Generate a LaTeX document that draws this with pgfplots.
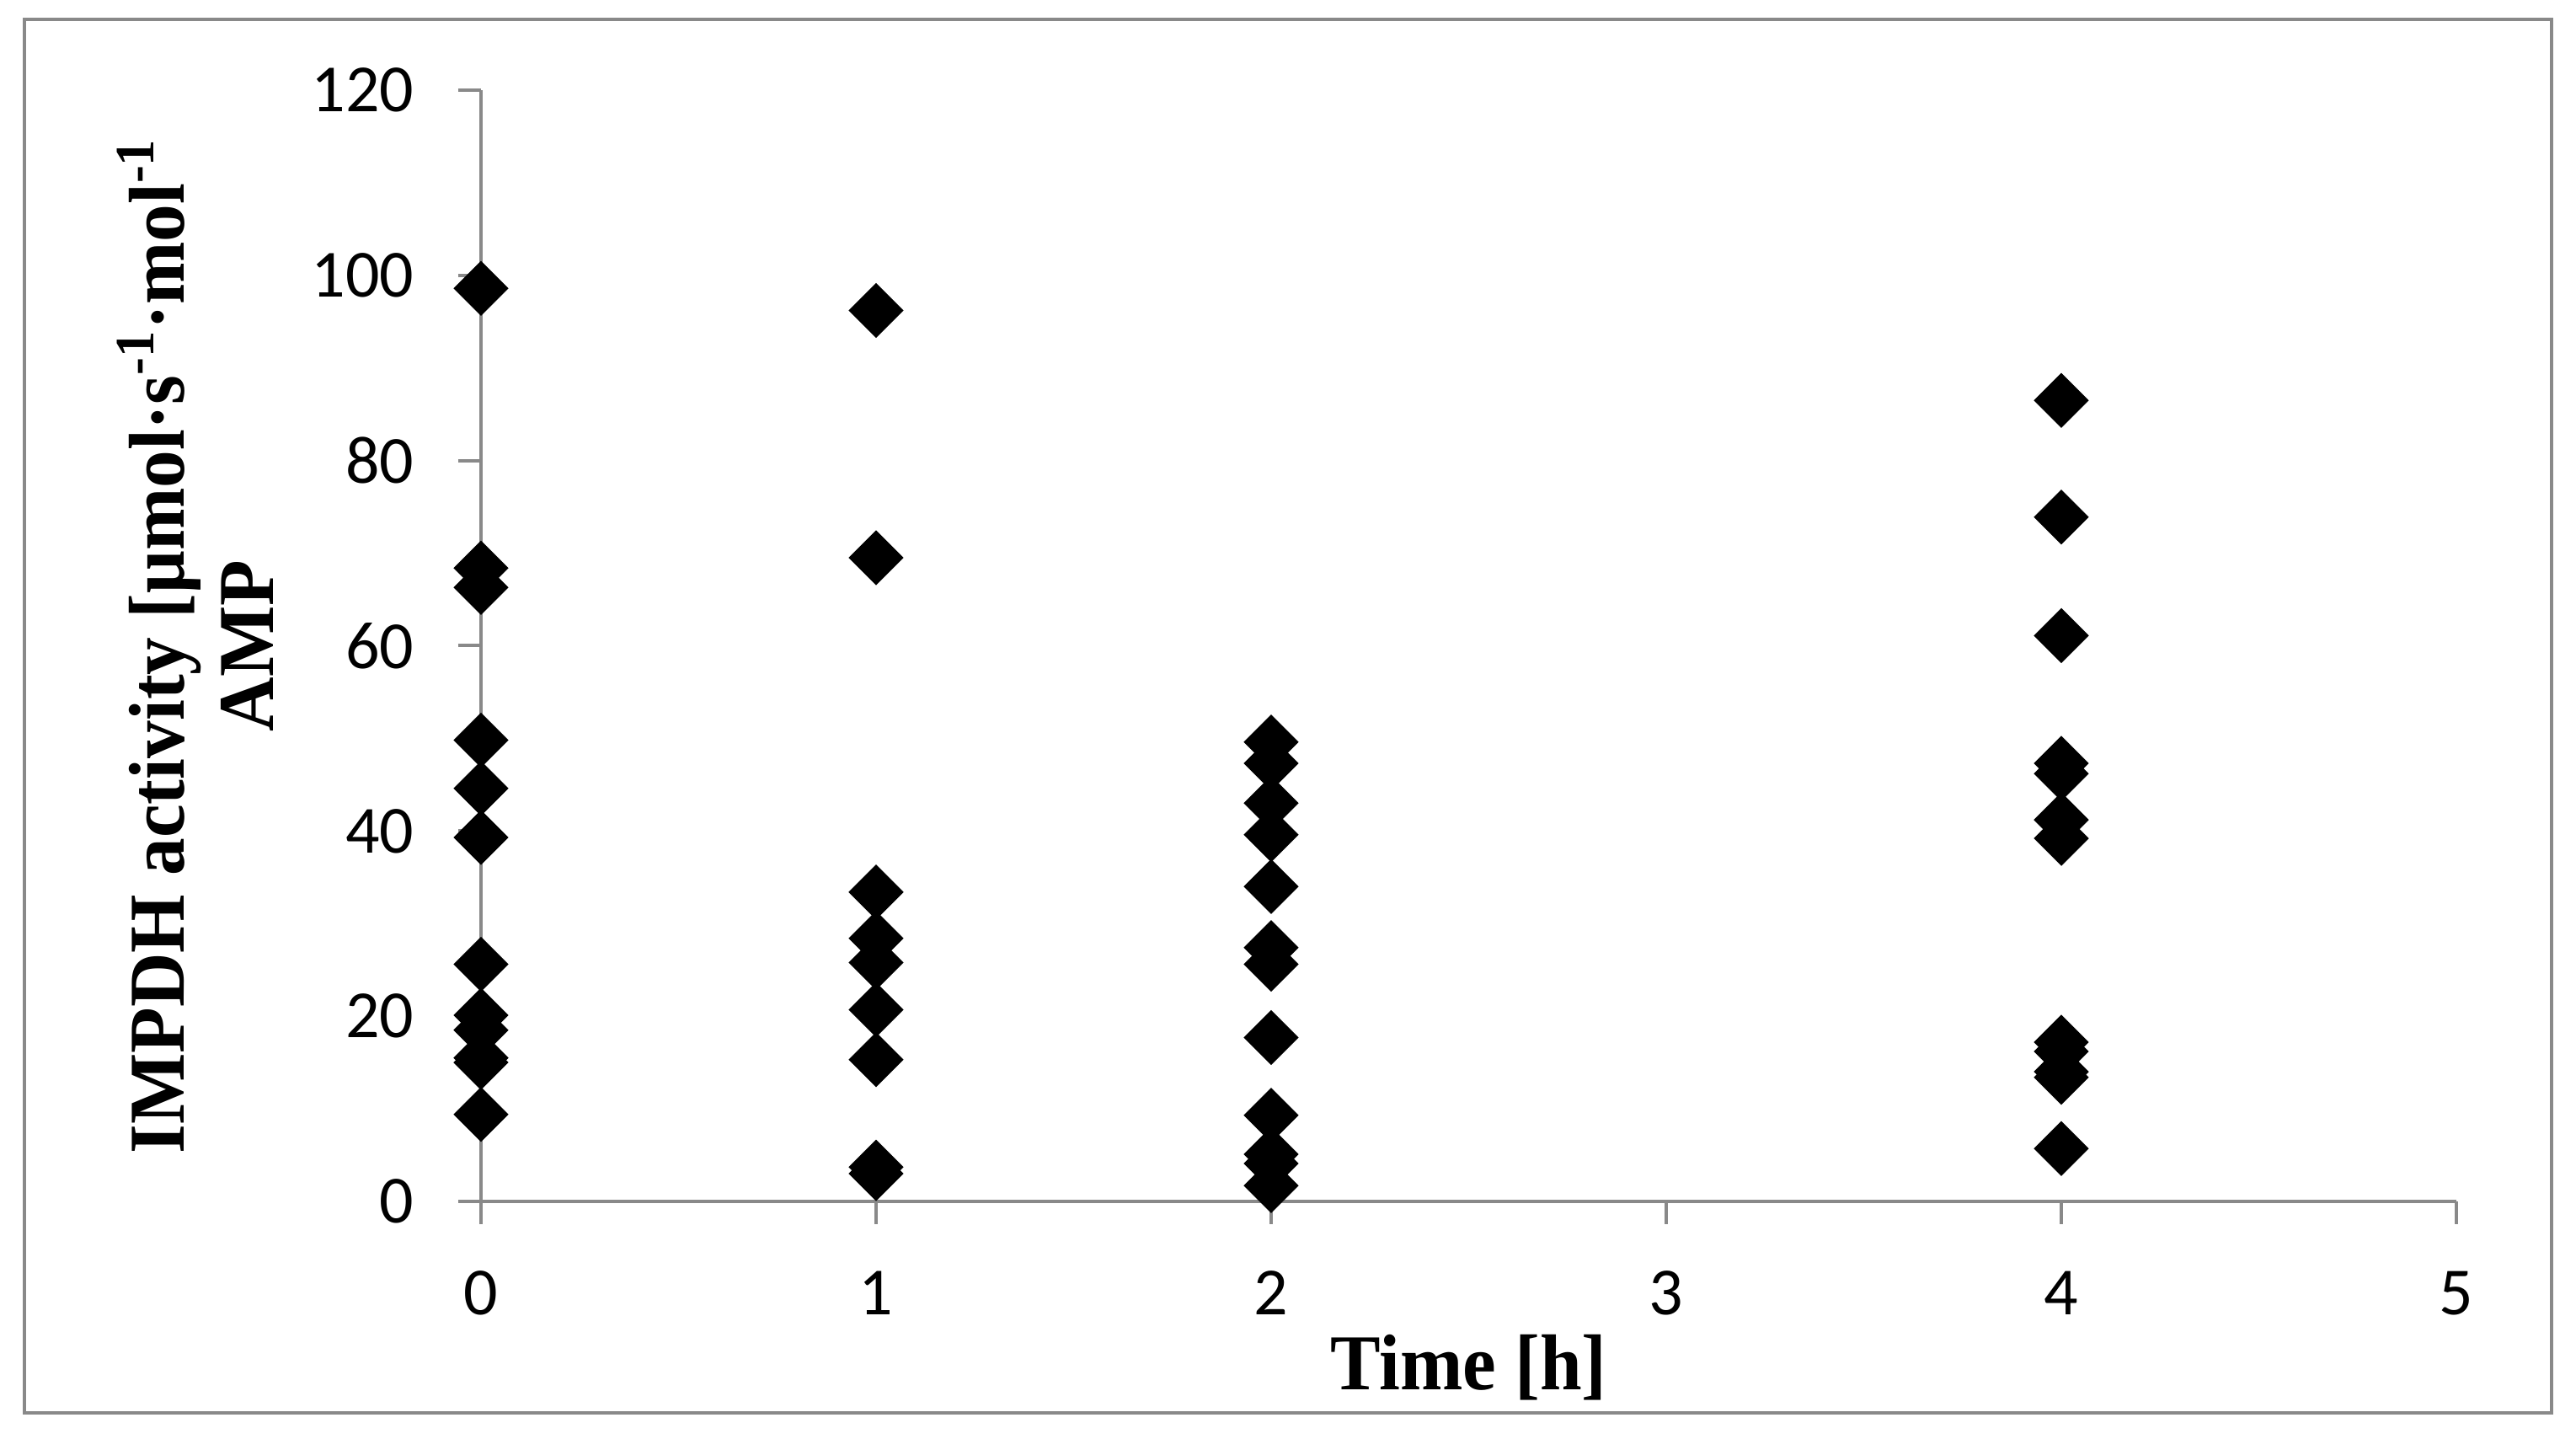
\documentclass[border=0pt]{standalone}
\usepackage{fontspec}
\setmainfont{Liberation Serif}
\newfontfamily\titlefont[FakeStretch=0.95]{Liberation Serif}
\newfontfamily\carlito{Carlito}
\usepackage{pgfplots}
\pgfplotsset{compat=1.18}
\definecolor{axgray}{RGB}{137,137,137}

\begin{document}
\begin{tikzpicture}
\useasboundingbox (-142.75pt,-70.5pt) rectangle (621.75pt,356.5pt);
\draw[axgray, line width=1pt] (-135.5pt,-62.75pt) rectangle (614.5pt,350.75pt);
\begin{axis}[
  at={(0pt,0pt)}, anchor=south west,
  scale only axis, width=586.25pt, height=329.75pt,
  xmin=0, xmax=5, ymin=0, ymax=120,
  xtick={0,1,2,3,4,5}, ytick={0,20,40,60,80,100,120},
  axis x line*=bottom, axis y line*=left,
  axis line style={axgray, line width=1pt, -},
  tick style={axgray, line width=1pt},
  tick align=outside, major tick length=6.75pt,
  /pgf/number format/assume math mode=true,
  tick label style={font=\carlito\fontsize{20}{24}\selectfont, inner sep=0pt},
  yticklabel shift=13pt, xticklabel shift=13.75pt,
  clip=false,
  xlabel={Time [h]},
  every axis x label/.style={at={(axis description cs:0.5,0)}, anchor=base, yshift=-56pt, font=\titlefont\bfseries\fontsize{23.5}{26.5}\selectfont},
  ylabel={IMPDH activity [μmol·s\textsuperscript{-1}·mol\textsuperscript{-1}\\AMP},
  every axis y label/.style={at={(axis description cs:-0.1049,0.5)}, rotate=90, anchor=south, inner sep=0pt, align=center, font=\titlefont\bfseries\fontsize{23.5}{26.5}\selectfont},
]
\addplot[only marks, mark=square*, mark size=5.57pt, mark options={rotate=45, fill=black, draw=black}] coordinates {
(0,98.6) (0,68.4) (0,66.3) (0,49.8) (0,44.6) (0,39.3) (0,25.6) (0,20.1) (0,18.5) (0,15.5) (0,15.0) (0,9.4)
(1,96.2) (1,69.5) (1,33.4) (1,28.4) (1,25.8) (1,20.7) (1,15.3) (1,3.7) (1,3.0)
(2,49.6) (2,47.3) (2,43.0) (2,39.6) (2,34.0) (2,27.4) (2,25.6) (2,17.7) (2,9.3) (2,5.1) (2,4.1) (2,1.7)
(4,86.5) (4,73.9) (4,61.1) (4,47.3) (4,46.2) (4,41.2) (4,39.2) (4,17.2) (4,16.2) (4,14.0) (4,13.4) (4,5.7)
};
\end{axis}
\end{tikzpicture}
\end{document}
